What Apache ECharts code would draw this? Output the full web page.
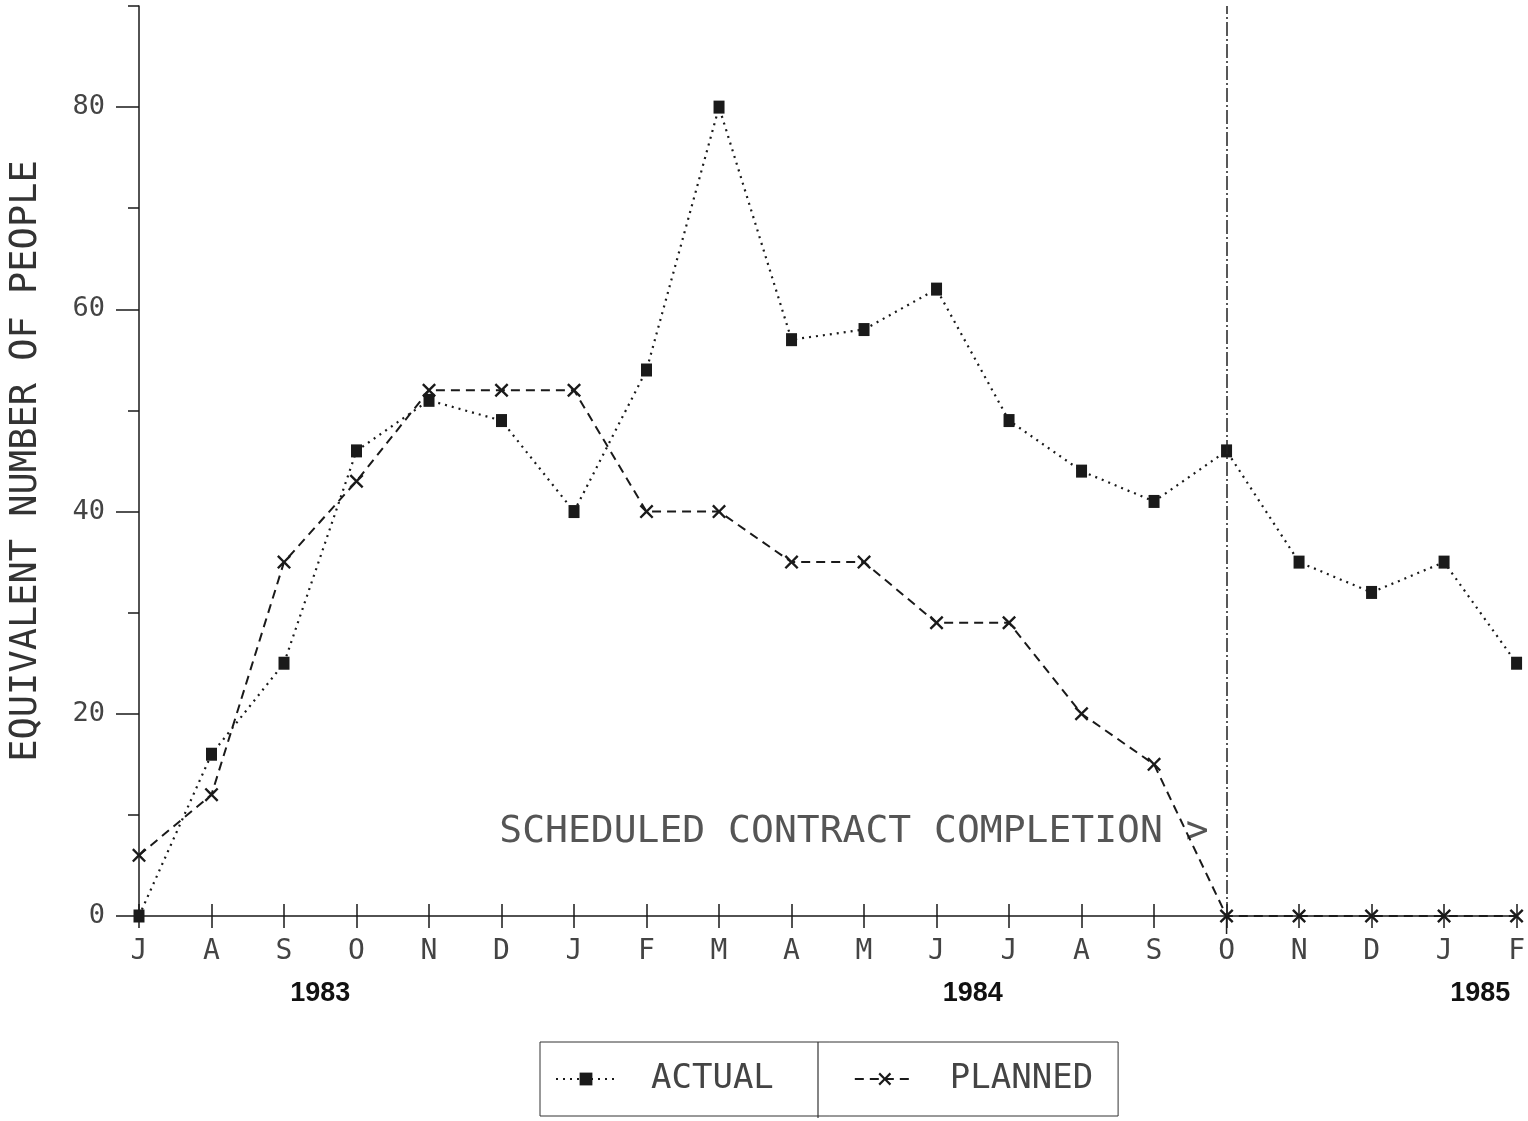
<!DOCTYPE html>
<html>
<head>
<meta charset="utf-8">
<script src="https://cdn.jsdelivr.net/npm/echarts@6/dist/echarts.min.js"></script>
<style>
  html, body { margin: 0; padding: 0; background: #fff; }
  #chart { width: 1528px; height: 1121px; }
</style>
</head>
<body>
<div id="chart"></div>
<script>
// ---- data ----
const months = ['J','A','S','O','N','D','J','F','M','A','M','J','J','A','S','O','N','D','J','F'];
const monthYears = ['1983','1983','1983','1983','1983','1983',
                    '1984','1984','1984','1984','1984','1984','1984','1984','1984','1984','1984','1984',
                    '1985','1985'];
const actual  = [0, 16, 25, 46, 51, 49, 40, 54, 80, 57, 58, 62, 49, 44, 41, 46, 35, 32, 35, 25];
const planned = [6, 12, 35, 43, 52, 52, 52, 40, 40, 35, 35, 29, 29, 20, 15, 0, 0, 0, 0, 0];
const yMajorTicks = [0, 20, 40, 60, 80];
const yMinorTicks = [10, 30, 50, 70, 90];
const yMax = 90;
const completionIndex = 15;
const completionLabelValue = 8.3;
const completionText = 'SCHEDULED CONTRACT COMPLETION >';
const yTitle = 'EQUIVALENT NUMBER OF PEOPLE';
const seriesNames = ['ACTUAL', 'PLANNED'];

// ---- styles ----
const MONO = 'DejaVu Sans Mono';
const INK = '#1a1a1a';
const TXT = '#444';
const xMark = 'path://M0,1.2L1.2,0L5,3.8L8.8,0L10,1.2L6.2,5L10,8.8L8.8,10L5,6.2L1.2,10L0,8.8L3.8,5Z';

const chart = echarts.init(document.getElementById('chart'));
const option = {
  animation: false,
  backgroundColor: '#fff',
  grid: { left: 136, right: 4, top: 6, bottom: 205 },
  xAxis: [
    {
      type: 'category', data: months, boundaryGap: false, position: 'bottom',
      axisLine: { lineStyle: { color: INK, width: 1.5 } },
      axisTick: { length: 12, alignWithLabel: true, interval: 0, lineStyle: { color: INK, width: 1.5 } },
      axisLabel: { margin: 22, interval: 0, fontFamily: MONO, fontSize: 28, color: TXT },
      splitLine: { show: false }
    },
    {
      type: 'category', data: months, boundaryGap: false, position: 'bottom',
      axisLine: { show: false },
      axisTick: { inside: true, length: 12, alignWithLabel: true, interval: 0, lineStyle: { color: INK, width: 1.5 } },
      axisLabel: { show: false },
      splitLine: { show: false }
    }
  ],
  yAxis: [
    {
      type: 'value', min: 0, max: yMax, position: 'left',
      axisLine: { show: true, lineStyle: { color: INK, width: 1.5 } },
      axisTick: { show: true, length: 23, customValues: yMajorTicks, lineStyle: { color: INK, width: 1.5 } },
      axisLabel: { customValues: yMajorTicks, margin: 34, fontFamily: MONO, fontSize: 27, color: TXT },
      splitLine: { show: false },
      name: yTitle, nameLocation: 'middle', nameGap: 94,
      nameTextStyle: { fontFamily: MONO, fontSize: 37, color: '#333' }
    },
    {
      type: 'value', min: 0, max: yMax, position: 'left',
      axisLine: { show: false },
      axisTick: { show: true, length: 11, customValues: yMinorTicks, lineStyle: { color: INK, width: 1.5 } },
      axisLabel: { show: false },
      splitLine: { show: false }
    }
  ],
  legend: {
    data: seriesNames,
    left: 540, top: 1042,
    padding: [20, 25, 20, 15],
    itemGap: 80,
    itemWidth: 60, itemHeight: 16,
    borderColor: '#333', borderWidth: 1,
    textStyle: { fontFamily: MONO, fontSize: 34, color: TXT, padding: [0, 0, 0, 30] }
  },
  series: [
    {
      name: seriesNames[0], type: 'line', data: actual,
      symbol: 'rect', symbolSize: [11, 13],
      lineStyle: { color: INK, width: 2.2, type: [2, 5] },
      itemStyle: { color: INK },
      z: 3,
      markLine: {
        silent: true, symbol: ['none', 'none'],
        label: { show: false },
        lineStyle: { color: '#222', width: 1.5, type: [14, 3, 2, 3] },
        data: [{ xAxis: completionIndex }]
      }
    },
    {
      name: seriesNames[1], type: 'line', data: planned,
      symbol: xMark, symbolSize: 14,
      lineStyle: { color: INK, width: 2, type: [9, 6] },
      itemStyle: { color: INK },
      z: 2
    }
  ]
};
chart.setOption(option);

// ---- annotations positioned through the axes ----
const px = i => chart.convertToPixel({ xAxisIndex: 0 }, i);
const py = v => chart.convertToPixel({ yAxisIndex: 0 }, v);
const xLine = px(completionIndex);
const yZero = py(0);
const graphics = [];

graphics.push({
  type: 'text', x: xLine - 18, y: py(completionLabelValue),
  style: { text: completionText, fontFamily: MONO, fontSize: 38, fill: '#555', align: 'right', verticalAlign: 'middle' }
});
graphics.push({
  type: 'line', shape: { x1: xLine, y1: yZero, x2: xLine, y2: yZero + 18 },
  style: { stroke: '#222', lineWidth: 1.5 }
});

// year labels centred under their months
const yearList = [...new Set(monthYears)];
yearList.forEach(yr => {
  const first = monthYears.indexOf(yr);
  const last = monthYears.lastIndexOf(yr);
  const cx = (px(first) + px(last)) / 2;
  graphics.push({
    type: 'text', x: cx, y: yZero + 78,
    style: { text: yr, fontFamily: 'Liberation Sans', fontWeight: 'bold', fontSize: 27, fill: '#111', align: 'center', verticalAlign: 'middle' }
  });
});

// legend divider
graphics.push({
  type: 'line', shape: { x1: 818, y1: 1042, x2: 818, y2: 1118 },
  style: { stroke: '#333', lineWidth: 1.2 }
});

chart.setOption({ graphic: graphics });
</script>
</body>
</html>
